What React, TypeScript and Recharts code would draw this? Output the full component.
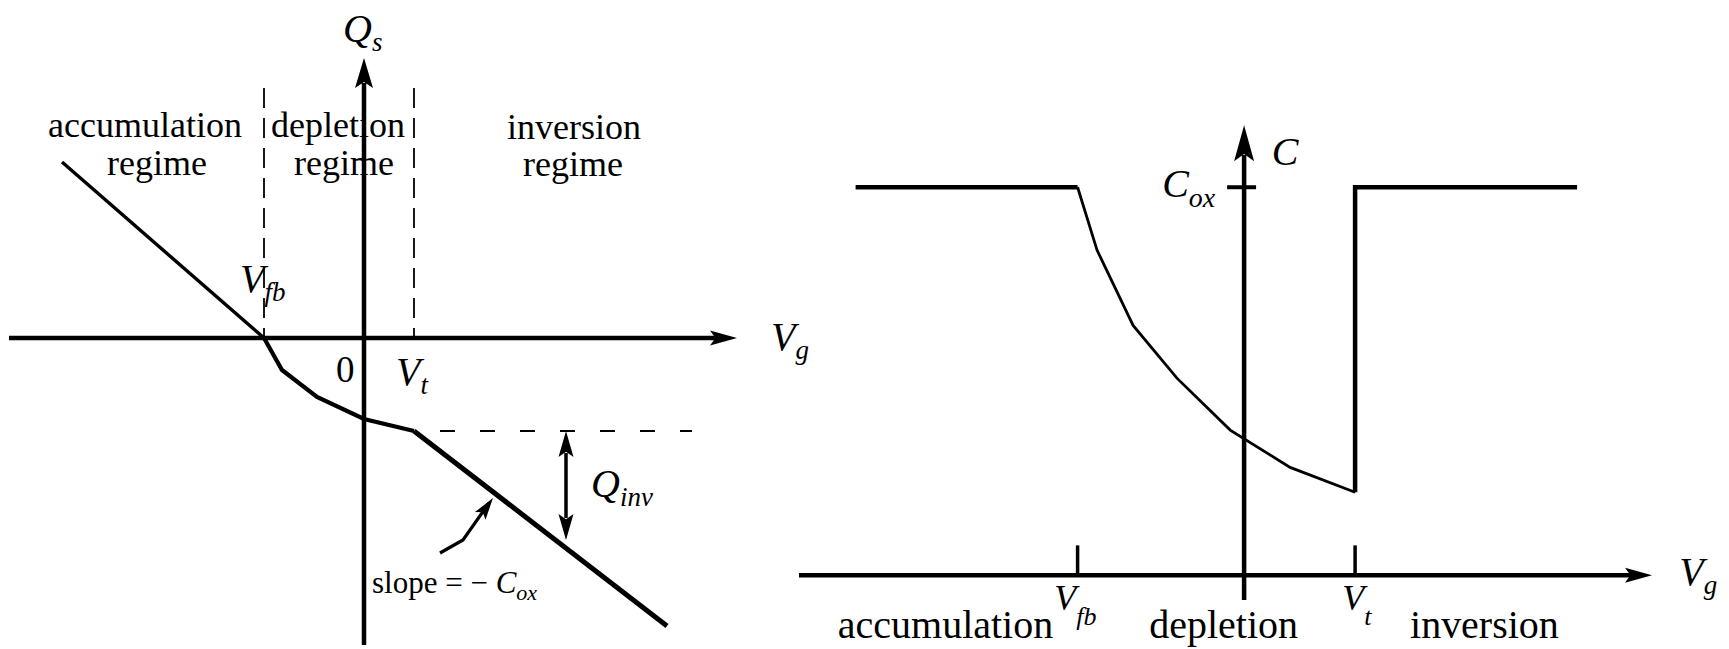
import React from "react";
import { ComposedChart, Line, Scatter, XAxis, YAxis } from "recharts";

// ---------- left panel: surface charge Qs vs gate voltage Vg (Vfb = -2, Vt = 1) ----------
const qsAccumulation = [
  { x: -6.04, y: 3.52 },
  { x: -2, y: 0 },
];
const qsDepletion = [
  { x: -2, y: 0 },
  { x: -1.64, y: -0.64 },
  { x: -0.94, y: -1.18 },
  { x: 0, y: -1.62 },
  { x: 1, y: -1.86 },
];
const qsInversion = [
  { x: 1, y: -1.86 },
  { x: 6.06, y: -5.76 },
];
const qsVgAxis = [
  { x: -7.1, y: 0 },
  { x: 7.06, y: 0 },
];
const qsAxis = [
  { x: 0, y: -6.14 },
  { x: 0, y: 5.1 },
];
const vfbGuide = [
  { x: -2, y: 5 },
  { x: -2, y: 0 },
];
const vtGuide = [
  { x: 1, y: 5 },
  { x: 1, y: 0 },
];
const qinvGuide = [
  { x: 1.52, y: -1.86 },
  { x: 6.56, y: -1.86 },
];
const qinvSpan = [
  { x: 4.04, y: -2.3 },
  { x: 4.04, y: -3.6 },
];
const slopePointer = [
  { x: 1.52, y: -4.3 },
  { x: 1.98, y: -4.04 },
  { x: 2.5, y: -3.3 },
];
const leftArrows = [
  { x: 7.46, y: 0, dx: 1, dy: 0, kind: "axis" },
  { x: 0, y: 5.6, dx: 0, dy: 1, kind: "axisBig" },
  { x: 4.04, y: -1.86, dx: 0, dy: 1, kind: "span" },
  { x: 4.04, y: -4.04, dx: 0, dy: -1, kind: "span" },
  { x: 2.58, y: -3.2, dx: 0.6, dy: 0.84, kind: "pointer" },
];
const leftRegimes = [
  { x: -4.38, y: 4.02, text: "accumulation" },
  { x: -4.14, y: 3.26, text: "regime" },
  { x: -0.52, y: 4.02, text: "depletion" },
  { x: -0.4, y: 3.26, text: "regime" },
  { x: 4.2, y: 3.98, text: "inversion" },
  { x: 4.18, y: 3.24, text: "regime" },
];
const leftSymbols = [
  { x: -0.42, y: 5.92, main: "Q", sub: "s" },
  { x: -2.48, y: 0.92, main: "V", sub: "fb" },
  { x: 0.64, y: -0.94, main: "V", sub: "t" },
  { x: 8.14, y: -0.24, main: "V", sub: "g" },
  { x: 4.54, y: -3.18, main: "Q", sub: "inv" },
];
const leftZero = [{ x: -0.56, y: -0.88, text: "0" }];
const slopeNote = [{ x: 0.16, y: -5.1, text: "slope = \u2212 ", main: "C", sub: "ox" }];

// ---------- right panel: C vs Vg (C in units of Cox, Vfb = -3, Vt = 2) ----------
const cAccumulation = [
  { x: -7, y: 1 },
  { x: -3, y: 1 },
];
const cDepletion = [
  { x: -3, y: 1 },
  { x: -2.65, y: 0.838 },
  { x: -2.0, y: 0.644 },
  { x: -1.21, y: 0.508 },
  { x: -0.25, y: 0.374 },
  { x: 0.83, y: 0.278 },
  { x: 2, y: 0.214 },
];
const cInversion = [
  { x: 2, y: 0.214 },
  { x: 2, y: 1 },
  { x: 6, y: 1 },
];
const cVgAxis = [
  { x: -8.02, y: 0 },
  { x: 6.99, y: 0 },
];
const cAxis = [
  { x: 0, y: -0.064 },
  { x: 0, y: 1.083 },
];
const coxTick = [
  { x: -0.306, y: 1 },
  { x: 0.216, y: 1 },
];
const cVfbTick = [
  { x: -3, y: 0 },
  { x: -3, y: 0.077 },
];
const cVtTick = [
  { x: 2, y: 0 },
  { x: 2, y: 0.077 },
];
const rightArrows = [
  { x: 7.35, y: 0, dx: 1, dy: 0, kind: "axis" },
  { x: 0, y: 1.16, dx: 0, dy: 1, kind: "axisTall" },
];
const rightSymbols = [
  { x: 0.5, y: 1.057, main: "C", sub: "" },
  { x: 7.84, y: -0.026, main: "V", sub: "g" },
];
const rightCox = [{ x: -0.52, y: 0.974, main: "C", sub: "ox" }];
const rightTicks = [
  { x: -3.42, y: -0.09, main: "V", sub: "fb" },
  { x: 1.77, y: -0.09, main: "V", sub: "t" },
];
const rightRegimes = [
  { x: -7.32, y: -0.162, text: "accumulation" },
  { x: -1.71, y: -0.162, text: "depletion" },
  { x: 2.99, y: -0.162, text: "inversion" },
];

// ---------- layout ----------
const SERIF = "'Liberation Serif', 'Times New Roman', serif";
const LEFT = { ox: 364, oy: 338, ux: 50, uy: 50, xd: [-7.2, 9.8], yd: [-6.22, 6.76] };
const RIGHT = { ox: 1244, oy: 575, ux: 55.5, uy: 388, xd: [-8.2, 8.7], yd: [-0.19, 1.48] };

const ARROW_SIZE: Record<string, [number, number]> = {
  axis: [27, 7.5],
  axisBig: [30, 9],
  axisTall: [36, 10],
  span: [26, 7.5],
  pointer: [22, 6.5],
};

const arrowShape = (ux: number, uy: number) => (props: any) => {
  const { cx, cy, payload } = props;
  const [len, half] = ARROW_SIZE[payload.kind];
  const ang = (Math.atan2(-payload.dy * uy, payload.dx * ux) * 180) / Math.PI;
  return (
    <path
      d={`M0,0 L${-len},${-half} L${-len * 0.8},0 L${-len},${half} Z`}
      transform={`translate(${cx},${cy}) rotate(${ang})`}
      fill="#000"
    />
  );
};

const wordShape = (fontSize: number, anchor: string) => (props: any) => {
  const { cx, cy, payload } = props;
  return (
    <text x={cx} y={cy} fontFamily={SERIF} fontSize={fontSize} textAnchor={anchor} fill="#000">
      {payload.text}
    </text>
  );
};

const symbolShape =
  (size: number, subSize: number, drop: number, anchor = "start") =>
  (props: any) => {
    const { cx, cy, payload } = props;
    return (
      <text x={cx} y={cy} fontFamily={SERIF} textAnchor={anchor} fill="#000">
        {payload.text ? <tspan fontSize={size}>{payload.text}</tspan> : null}
        <tspan fontSize={size} fontStyle="italic">
          {payload.main}
        </tspan>
        {payload.sub ? (
          <tspan fontSize={subSize} fontStyle="italic" dy={drop}>
            {payload.sub}
          </tspan>
        ) : null}
      </text>
    );
  };

function Panel({ frame, children }: { frame: typeof LEFT; children: React.ReactNode }) {
  const left = frame.ox + frame.xd[0] * frame.ux;
  const top = frame.oy - frame.yd[1] * frame.uy;
  const width = (frame.xd[1] - frame.xd[0]) * frame.ux;
  const height = (frame.yd[1] - frame.yd[0]) * frame.uy;
  return (
    <div style={{ position: "absolute", left, top, width, height }}>
      <ComposedChart width={width} height={height} margin={{ top: 0, right: 0, bottom: 0, left: 0 }}>
        <XAxis type="number" dataKey="x" domain={frame.xd} hide allowDataOverflow />
        <YAxis type="number" dataKey="y" domain={frame.yd} hide allowDataOverflow />
        {children}
      </ComposedChart>
    </div>
  );
}

const seg = (data: any[], width: number, dash?: string) => (
  <Line
    data={data}
    dataKey="y"
    type="linear"
    stroke="#000"
    strokeWidth={width}
    strokeDasharray={dash}
    dot={false}
    activeDot={false}
    isAnimationActive={false}
  />
);

const marks = (data: any[], shape: any) => (
  <Scatter data={data} shape={shape} isAnimationActive={false} />
);

export default function App() {
  return (
    <div
      style={{
        position: "absolute",
        left: 0,
        top: 0,
        width: 1729,
        height: 649,
        background: "#fff",
        overflow: "hidden",
      }}
    >
      <Panel frame={LEFT}>
        {marks(leftRegimes, wordShape(36, "middle"))}
        {marks(leftZero, wordShape(37, "start"))}
        {marks(leftSymbols, symbolShape(40, 27, 9))}
        {marks(slopeNote, symbolShape(31, 22, 7))}
        {seg(vfbGuide, 1.8, "20 10")}
        {seg(vtGuide, 1.8, "20 10")}
        {seg(qinvGuide, 1.8, "15 25")}
        {seg(qsVgAxis, 4.5)}
        {seg(qsAxis, 4.5)}
        {seg(qsAccumulation, 3.4)}
        {seg(qsDepletion, 4.2)}
        {seg(qsInversion, 5)}
        {seg(qinvSpan, 3.5)}
        {seg(slopePointer, 3.2)}
        {marks(leftArrows, arrowShape(LEFT.ux, LEFT.uy))}
      </Panel>
      <Panel frame={RIGHT}>
        {marks(rightRegimes, wordShape(40, "start"))}
        {marks(rightSymbols, symbolShape(40, 27, 9))}
        {marks(rightCox, symbolShape(40, 28, 10, "end"))}
        {marks(rightTicks, symbolShape(36, 26, 15))}
        {seg(cVgAxis, 4.5)}
        {seg(cAxis, 4.5)}
        {seg(coxTick, 4)}
        {seg(cVfbTick, 3.5)}
        {seg(cVtTick, 3.5)}
        {seg(cAccumulation, 4.5)}
        {seg(cDepletion, 2.8)}
        {seg(cInversion, 4.5)}
        {marks(rightArrows, arrowShape(RIGHT.ux, RIGHT.uy))}
      </Panel>
    </div>
  );
}
